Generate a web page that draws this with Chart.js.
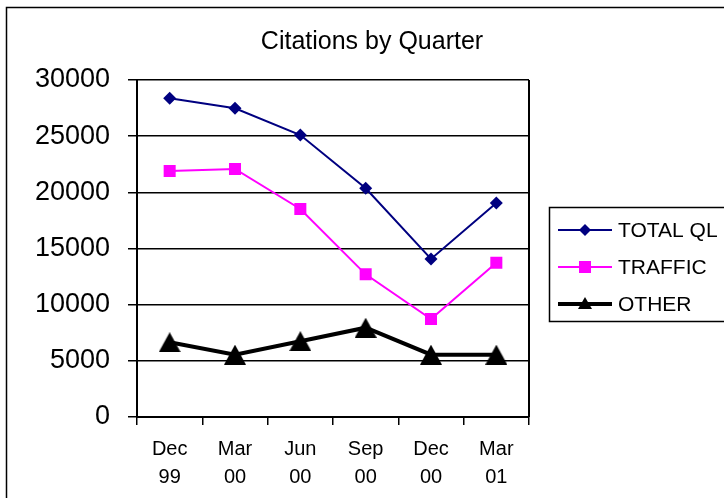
<!DOCTYPE html>
<html>
<head>
<meta charset="utf-8">
<script src="https://cdn.jsdelivr.net/npm/chart.js@4/dist/chart.umd.min.js"></script>
<style>
  body { margin: 0; background: #fff; }
  canvas { display: block; }
</style>
</head>
<body>
<canvas id="chart" width="724" height="498"></canvas>
<script>
// values
const quarters = [['Dec', '99'], ['Mar', '00'], ['Jun', '00'], ['Sep', '00'], ['Dec', '00'], ['Mar', '01']];
const totalQL = [28370, 27480, 25100, 20360, 14070, 19050];
const traffic = [21900, 22080, 18520, 12700, 8720, 13740];
const other = [6650, 5550, 6750, 7950, 5550, 5550];
const yTicks = [0, 5000, 10000, 15000, 20000, 25000, 30000];

const FONT = '"Liberation Sans", Arial, sans-serif';

// triangle marker, centred on its box like the original
function triangle(w, h) {
  const c = document.createElement('canvas');
  c.width = w; c.height = h;
  const g = c.getContext('2d');
  g.fillStyle = '#000';
  g.beginPath();
  g.moveTo(w / 2, 0);
  g.lineTo(w, h);
  g.lineTo(0, h);
  g.closePath();
  g.fill();
  return c;
}
const triBig = triangle(22, 20);
const triSmall = triangle(14, 12);

function drawMarker(ctx, ds, x, y) {
  ctx.fillStyle = ds.pointBackgroundColor;
  if (ds.pointStyle === 'rectRot') {
    const r = 6;
    ctx.beginPath();
    ctx.moveTo(x - r, y); ctx.lineTo(x, y - r); ctx.lineTo(x + r, y); ctx.lineTo(x, y + r);
    ctx.closePath(); ctx.fill();
  } else if (ds.pointStyle === 'rect') {
    ctx.fillRect(x - 6, y - 6, 12, 12);
  } else {
    ctx.drawImage(triSmall, x - 7, y - 7);
  }
}

const decor = {
  id: 'decor',
  beforeDraw(chart) {
    const ctx = chart.ctx;
    ctx.save();
    ctx.fillStyle = '#fff';
    ctx.fillRect(0, 0, chart.width, chart.height);
    ctx.restore();
  },
  afterDraw(chart) {
    const ctx = chart.ctx;
    const a = chart.chartArea;
    ctx.save();
    // outer frame (runs off the right and bottom edges)
    ctx.strokeStyle = '#000';
    ctx.lineWidth = 1.5;
    ctx.strokeRect(6.5, 7.5, 800, 600);
    // plot right border
    ctx.lineWidth = 2;
    ctx.beginPath();
    ctx.moveTo(a.right, a.top);
    ctx.lineTo(a.right, a.bottom);
    ctx.stroke();
    // title
    ctx.fillStyle = '#000';
    ctx.font = '25px ' + FONT;
    ctx.textAlign = 'center';
    ctx.textBaseline = 'middle';
    ctx.fillText('Citations by Quarter', 372, 42);
    // legend
    ctx.lineWidth = 1.5;
    ctx.strokeRect(549.5, 207.5, 220, 114);
    ctx.font = '21px ' + FONT;
    ctx.textAlign = 'left';
    chart.data.datasets.forEach((ds, i) => {
      const y = 230 + i * 37;
      ctx.strokeStyle = ds.borderColor;
      ctx.lineWidth = ds.borderWidth;
      ctx.beginPath();
      ctx.moveTo(558, y);
      ctx.lineTo(612, y);
      ctx.stroke();
      drawMarker(ctx, ds, 585, y);
      ctx.fillStyle = '#000';
      ctx.fillText(ds.label, 618, y + 1);
    });
    ctx.restore();
  }
};

new Chart(document.getElementById('chart'), {
  type: 'line',
  data: {
    labels: quarters,
    datasets: [
      {
        label: 'TOTAL QL',
        data: totalQL,
        borderColor: '#000080',
        backgroundColor: '#000080',
        pointBackgroundColor: '#000080',
        pointBorderColor: '#000080',
        borderWidth: 2,
        pointStyle: 'rectRot',
        pointRadius: 6.5,
        pointBorderWidth: 0
      },
      {
        label: 'TRAFFIC',
        data: traffic,
        borderColor: '#FF00FF',
        backgroundColor: '#FF00FF',
        pointBackgroundColor: '#FF00FF',
        pointBorderColor: '#FF00FF',
        borderWidth: 2,
        pointStyle: 'rect',
        pointRadius: 8.5,
        pointBorderWidth: 0
      },
      {
        label: 'OTHER',
        data: other,
        borderColor: '#000000',
        backgroundColor: '#000000',
        pointBackgroundColor: '#000000',
        pointBorderColor: '#000000',
        borderWidth: 4,
        pointStyle: triBig,
        pointRadius: 10,
        pointBorderWidth: 0
      }
    ]
  },
  options: {
    responsive: false,
    animation: false,
    devicePixelRatio: 1,
    layout: { padding: { top: 80, right: 195, left: 0, bottom: 0 } },
    plugins: {
      legend: { display: false },
      title: { display: false },
      tooltip: { enabled: false }
    },
    scales: {
      x: {
        offset: true,
        afterFit: s => { s.height = 81; },
        grid: {
          offset: true,
          drawOnChartArea: false,
          drawTicks: true,
          tickLength: 8,
          color: '#000',
          lineWidth: 1.5
        },
        border: { display: true, color: '#000', width: 2 },
        ticks: {
          color: '#000',
          padding: 10,
          maxRotation: 0,
          autoSkip: false,
          font: { family: FONT, size: 20, lineHeight: 1.4 }
        }
      },
      y: {
        min: yTicks[0],
        max: yTicks[yTicks.length - 1],
        afterFit: s => { s.width = 137; },
        afterBuildTicks: s => { s.ticks = yTicks.map(v => ({ value: v })); },
        grid: {
          color: '#000',
          lineWidth: 1.5,
          drawTicks: true,
          tickLength: 9
        },
        border: { display: true, color: '#000', width: 2 },
        ticks: {
          color: '#000',
          padding: 18,
          callback: v => String(v),
          font: { family: FONT, size: 27 }
        }
      }
    }
  },
  plugins: [decor]
});
</script>
</body>
</html>
